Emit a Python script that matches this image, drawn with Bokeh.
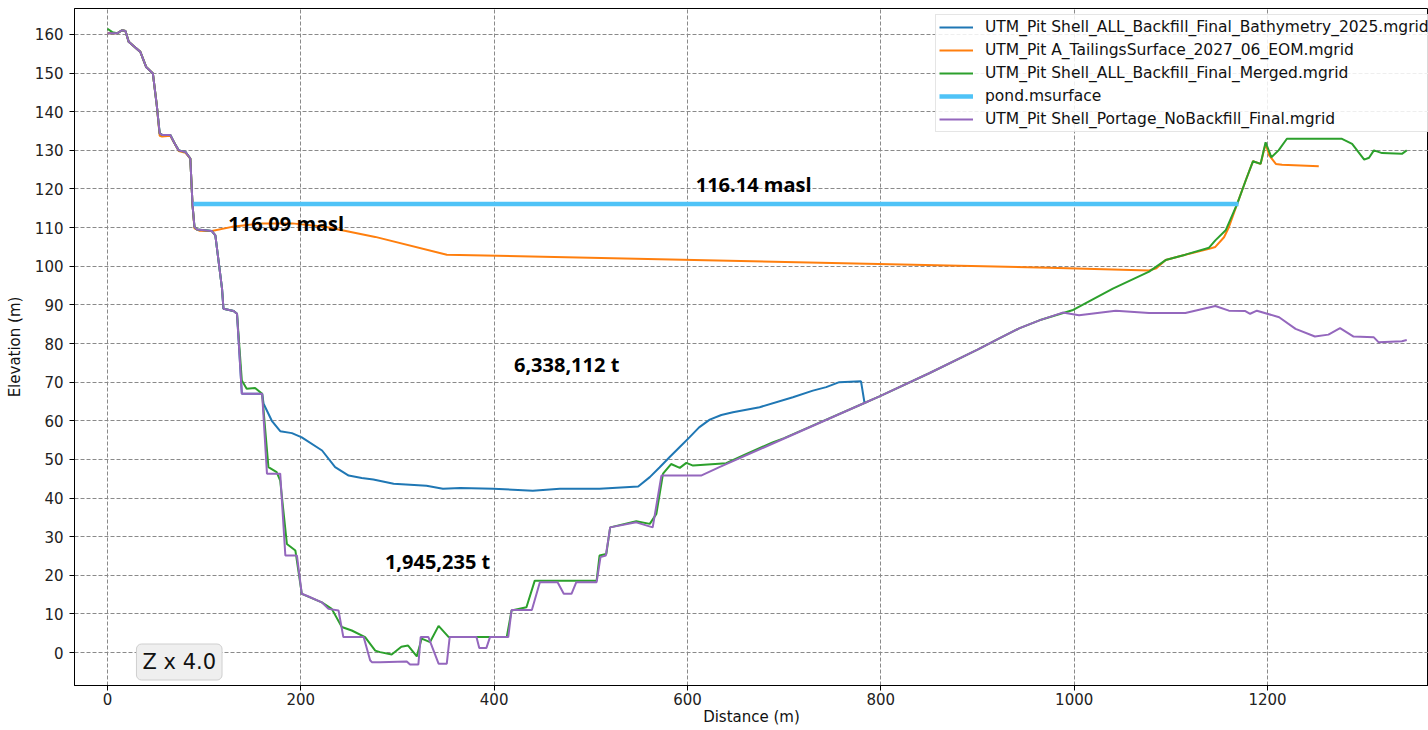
from bokeh.plotting import figure
from bokeh.models import Range1d, Label, FixedTicker
from bokeh.embed import file_html
from bokeh.resources import INLINE

# ---------------- data ----------------
LABELS = [
    "UTM_Pit Shell_ALL_Backfill_Final_Bathymetry_2025.mgrid",
    "UTM_Pit A_TailingsSurface_2027_06_EOM.mgrid",
    "UTM_Pit Shell_ALL_Backfill_Final_Merged.mgrid",
    "pond.msurface",
    "UTM_Pit Shell_Portage_NoBackfill_Final.mgrid",
]

bathy_x = [0, 10, 15, 18.6, 22, 27, 34, 40, 47, 51, 54, 56.5, 65, 69.5, 73.7, 80.6, 85.7, 88, 90, 92.6,
           108, 111.6, 115, 118.5, 120, 130.5, 134, 139, 160, 161.5, 170, 178.7, 190.8, 201, 222, 235.5,
           249.5, 263, 275, 296, 330, 347, 365, 399, 440, 468, 509, 549, 561, 571, 581.6, 592, 602, 612,
           623, 635, 647, 674.6, 709, 729.7, 743.5, 757, 779.5, 783]
bathy_y = [160.3, 160.3, 161.1, 160.9, 158.1, 157, 155.5, 151.6, 149.9, 141.7, 134.4, 134, 134, 131.8, 130,
           129.6, 127.9, 115.8, 110.2, 109.5, 109.1, 108, 101.2, 94.2, 89, 88.4, 87.7, 67, 67, 64.4, 60,
           57.3, 56.8, 55.7, 52.3, 48, 45.8, 45.2, 44.8, 43.7, 43.2, 42.4, 42.6, 42.4, 41.9, 42.4, 42.4,
           43, 45.4, 47.9, 50.6, 53.2, 55.7, 58.3, 60.3, 61.5, 62.2, 63.5, 66.1, 67.8, 68.7, 70, 70.2, 64.8]

tail_x = [0, 10, 15, 18.6, 22, 27, 34, 40, 47, 51, 54, 56.5, 65, 69.5, 73.7, 80.6, 85.7, 88, 90, 95,
          108, 128.8, 160, 191, 225, 277, 351, 974, 1077.5, 1085, 1094.6, 1115, 1139.5, 1146, 1155, 1160,
          1168.7, 1177.4, 1185, 1192.8, 1198, 1201.7, 1208.6, 1215, 1253]
tail_y = [160.3, 160.3, 161.1, 160.9, 158.1, 157, 155.5, 151.6, 149.9, 141.7, 133.8, 133.6, 133.8, 131.8,
          129.8, 129.4, 127.9, 115.8, 109.8, 109.2, 109.1, 110.2, 111.1, 111.1, 110.2, 107.6, 103, 99.6,
          98.9, 99.5, 101.6, 103, 104.5, 105, 107.5, 110.1, 116.2, 122.2, 127.2, 126.5, 131.7, 128.7,
          126.5, 126.3, 125.9]

merged_x = [0, 5, 10, 15, 18.6, 22, 27, 34, 40, 47, 51, 54, 56.5, 65, 69.5, 73.7, 80.6, 85.7, 88, 90,
            92.6, 108, 111.6, 115, 118.5, 120, 130.5, 134, 139, 144, 152.7, 160, 166.5, 175, 178.7,
            185.6, 194.4, 201, 221.7, 232, 242.4, 252.7, 266.5, 277, 282, 294, 304, 311, 320, 325, 333.7,
            342.5, 353, 413, 418, 433.4, 442, 506, 509, 516, 520, 547, 561, 567.8, 574.7, 583, 592, 598.8,
            605.7, 640, 661, 688, 700, 784.8, 798.6, 850, 900, 922.5, 943, 964, 998, 1040, 1077.5, 1094.6,
            1115, 1139.5, 1146, 1156.7, 1168.7, 1177.4, 1185, 1192.8, 1198, 1204, 1211.4, 1220, 1277,
            1287.5, 1300, 1305, 1310, 1318.5, 1339, 1344]
merged_y = [161.5, 160.6, 160.3, 161.1, 160.9, 158.1, 157, 155.5, 151.6, 149.9, 141.7, 134.4, 134, 134,
            131.8, 130, 129.6, 127.9, 115.8, 110.2, 109.5, 109.1, 108, 101.2, 94.2, 89, 88.4, 87.7, 70.4,
            68.3, 68.5, 67, 48, 46.7, 44.5, 28.1, 26.4, 15.2, 13, 11.3, 6.6, 5.7, 4, 0.5, 0.1, -0.5, 1.5,
            1.8, -1.0, 3.6, 2.7, 6.9, 4, 4, 10.9, 11.7, 18.6, 18.6, 25.1, 25.5, 32.4, 34, 33.3, 35.9, 46.3,
            48.8, 47.8, 49.1, 48.4, 49, 51.4, 54.4, 55.5, 64.8, 66.3, 72.3, 78.4, 81.3, 83.9, 86, 88.6,
            94.2, 98.6, 101.6, 103, 104.8, 106.7, 109.3, 116.2, 122.2, 127.2, 126.5, 132.1, 128.2, 130,
            133, 133, 131.7, 127.6, 128.1, 130, 129.3, 129.1, 130]

pond_x = [88, 1170]
pond_y = [116.14, 116.14]

nobf_x = [0, 10, 15, 18.6, 22, 27, 34, 40, 47, 51, 54, 56.5, 65, 69.5, 73.7, 80.6, 85.7, 88, 90, 92.6,
          108, 111.6, 115, 118.5, 120, 130.5, 134, 139, 160, 165, 178.7, 184, 196, 201, 208, 221.7,
          228.6, 239, 244, 265, 271.7, 273.5, 282, 309.6, 313, 321.6, 324, 332, 342.5, 351, 354, 381.7,
          384.6, 392, 395.7, 414.6, 418, 439, 447.3, 465.6, 472, 480, 485, 506, 510, 515.5, 520, 547,
          564, 573, 614, 633, 700, 784.8, 798.6, 850, 900, 922.5, 943, 964, 988, 1005, 1043, 1077.5,
          1115, 1146, 1160, 1177, 1182, 1189, 1212, 1229, 1249, 1263, 1275, 1289, 1310, 1315, 1339, 1344]
nobf_y = [160.3, 160.3, 161.1, 160.9, 158.1, 157, 155.5, 151.6, 149.9, 141.7, 134.4, 134, 134, 131.8,
          130, 129.6, 127.9, 115.8, 110.2, 109.5, 109.1, 108, 101.2, 94.2, 89, 88.4, 87.7, 67, 67, 46.3,
          46.3, 25.1, 25.1, 15.2, 14.5, 13, 11.3, 10.9, 4, 4, -2, -2.5, -2.5, -2.3, -3.1, -3.1, 4, 4,
          -2.9, -2.9, 4, 4, 1.2, 1.2, 4, 4, 11, 11, 18.2, 18.2, 15.2, 15.2, 18.2, 18.2, 24.7, 25.1,
          32.4, 33.7, 32.4, 45.8, 45.8, 48, 55.4, 64.8, 66.3, 72.3, 78.4, 81.3, 83.9, 86, 88, 87.3,
          88.5, 87.9, 87.9, 89.7, 88.5, 88.4, 87.7, 88.5, 86.8, 83.8, 81.8, 82.3, 84, 81.8, 81.6, 80.3,
          80.6, 80.9]

X_TICKS = [0, 200, 400, 600, 800, 1000, 1200]
Y_TICKS = list(range(0, 161, 10))

ANNOT_TEXT = ["116.14 masl", "116.09 masl", "6,338,112 t", "1,945,235 t"]
ANNOT_X = [608.5, 125, 420.5, 287]
ANNOT_Y = [121.2, 111.1, 74.6, 23.6]

COLORS = ["#1f77b4", "#ff7f0e", "#2ca02c", "#4fc3f7", "#9467bd"]

# ---------------- figure ----------------
p = figure(width=1428, height=730, output_backend="svg", toolbar_location=None,
           x_range=Range1d(-34.1, 1366.5), y_range=Range1d(-8.54, 166.73),
           min_border_left=74, min_border_right=0, min_border_top=8, min_border_bottom=45,
           x_axis_label="Distance (m)", y_axis_label="Elevation (m)")

p.background_fill_color = "white"
p.border_fill_color = "white"
p.outline_line_color = "black"
p.outline_line_width = 1

for g in (p.xgrid, p.ygrid):
    g.grid_line_color = "#8a8a8a"
    g.grid_line_dash = "4 2"
    g.grid_line_width = 1

p.xaxis.ticker = FixedTicker(ticks=X_TICKS, minor_ticks=[])
p.yaxis.ticker = FixedTicker(ticks=Y_TICKS, minor_ticks=[])

for ax in (p.xaxis, p.yaxis):
    ax.axis_line_color = "black"
    ax.major_tick_line_color = "black"
    ax.major_tick_out = 5
    ax.major_tick_in = 0
    ax.minor_tick_out = 0
    ax.minor_tick_in = 0
    ax.major_label_text_font = "DejaVu Sans"
    ax.major_label_text_font_size = "15px"
    ax.major_label_text_color = "#222222"
    ax.axis_label_text_font = "DejaVu Sans"
    ax.axis_label_text_font_size = "15px"
    ax.axis_label_text_font_style = "normal"
    ax.axis_label_text_color = "#111111"
p.xaxis.major_label_standoff = 2
p.xaxis.axis_label_standoff = 0
p.yaxis.major_label_standoff = 6
p.yaxis.axis_label_standoff = 8

p.line(bathy_x, bathy_y, line_color=COLORS[0], line_width=2, legend_label=LABELS[0])
p.line(tail_x, tail_y, line_color=COLORS[1], line_width=2, legend_label=LABELS[1])
p.line(merged_x, merged_y, line_color=COLORS[2], line_width=2, legend_label=LABELS[2])
p.line(pond_x, pond_y, line_color=COLORS[3], line_width=4.5, legend_label=LABELS[3])
p.line(nobf_x, nobf_y, line_color=COLORS[4], line_width=2, legend_label=LABELS[4])

for t, x, y in zip(ANNOT_TEXT, ANNOT_X, ANNOT_Y):
    p.add_layout(Label(x=x, y=y, text=t, text_font="Open Sans", text_font_style="bold",
                       text_font_size="20px", text_color="black",
                       text_align="left", text_baseline="middle"))

p.add_layout(Label(x=30.0, y=-2.46, text="Z x 4.0", text_font="DejaVu Sans",
                   text_font_size="21px", text_color="#111111",
                   text_align="left", text_baseline="middle",
                   background_fill_color="#efefef", background_fill_alpha=1.0,
                   border_line_color="#cfcfcf", border_line_width=1,
                   padding=6, border_radius=5))

lg = p.legend[0]
lg.location = (861, 553)
lg.margin = 0
lg.padding = 3
lg.spacing = 5
lg.glyph_width = 34
lg.glyph_height = 18
lg.label_height = 18
lg.label_standoff = 12
lg.label_text_font = "DejaVu Sans"
lg.label_text_font_size = "15.5px"
lg.label_text_color = "#111111"
lg.border_line_color = "#cccccc"
lg.border_line_width = 1
lg.background_fill_color = "white"
lg.background_fill_alpha = 0.85

open("out.html", "w").write(file_html(p, INLINE))
